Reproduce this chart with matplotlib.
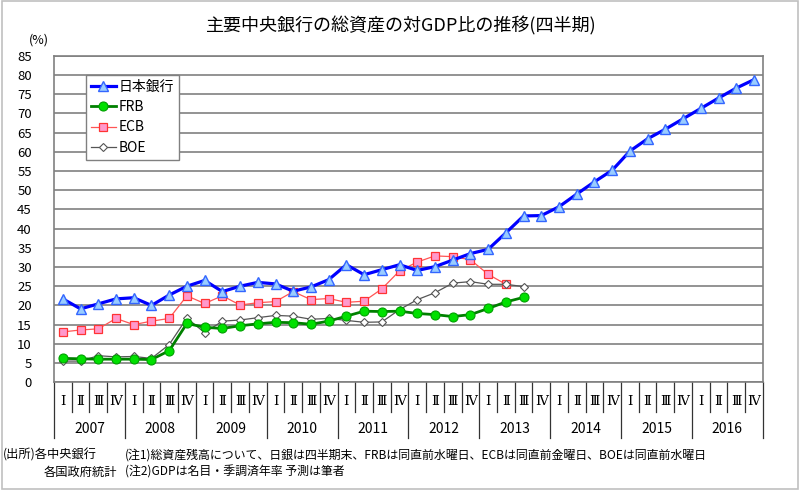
import matplotlib.pyplot as plt
import matplotlib.transforms as mtransforms
import numpy as np

plt.rcParams['font.family'] = ['Noto Sans CJK JP', 'DejaVu Sans']

years = ['2007', '2008', '2009', '2010', '2011', '2012', '2013', '2014', '2015', '2016']
quarters = ['Ⅰ', 'Ⅱ', 'Ⅲ', 'Ⅳ']

# 日本銀行 (2007Q1 - 2016Q4)
boj = [21.7, 19.1, 20.4, 21.7, 22.0, 20.0, 22.7, 25.0,
       26.5, 23.6, 25.0, 26.0, 25.6, 23.7, 24.8, 26.7,
       30.6, 28.0, 29.3, 30.6, 29.1, 30.1, 31.8, 33.5,
       34.6, 38.9, 43.3, 43.4, 45.7, 49.0, 52.2, 55.2,
       60.2, 63.4, 65.9, 68.6, 71.3, 74.0, 76.6, 78.8]
# FRB (2007Q1 - 2013Q3)
frb = [6.2, 6.1, 6.0, 6.0, 6.0, 5.9, 8.2, 15.3,
       14.3, 14.0, 14.7, 15.2, 15.6, 15.5, 15.1, 15.9,
       17.2, 18.5, 18.4, 18.5, 17.9, 17.6, 17.1, 17.6,
       19.2, 20.9, 22.1]
# ECB (2007Q1 - 2013Q2)
ecb = [13.1, 13.6, 13.9, 16.6, 15.0, 15.9, 16.6, 22.5,
       20.5, 22.5, 20.1, 20.7, 21.0, 23.6, 21.5, 21.8,
       20.8, 21.1, 24.3, 29.0, 31.3, 32.9, 32.7, 31.9,
       28.1, 25.5]
# BOE (2007Q1 - 2013Q3)
boe = [5.5, 5.5, 6.9, 6.6, 6.7, 6.2, 9.8, 16.7,
       12.9, 15.9, 16.2, 16.8, 17.4, 17.2, 16.4, 16.6,
       16.1, 15.6, 15.7, 18.9, 21.5, 23.3, 25.8, 26.2,
       25.5, 25.5, 24.9]

fig = plt.figure(figsize=(8, 4.9), dpi=100)
ax = fig.add_axes([0.0675, 0.22, 0.886, 0.666])

ax.plot(np.arange(len(boj)), boj, color='#0000ff', lw=2.3, marker='^', ms=7.5,
        mfc='#99ccff', mec='#3366ff', mew=1.0, label='日本銀行', zorder=5)
ax.plot(np.arange(len(frb)), frb, color='#008000', lw=2.0, marker='o', ms=6.5,
        mfc='#00e000', mec='#00a000', mew=0.8, label='FRB', zorder=4)
ax.plot(np.arange(len(ecb)), ecb, color='#ff5555', lw=0.9, marker='s', ms=5.5,
        mfc='#ff99cc', mec='#ff3333', mew=0.9, label='ECB', zorder=3)
ax.plot(np.arange(len(boe)), boe, color='#555555', lw=0.9, marker='D', ms=4,
        mfc='white', mec='#555555', mew=0.8, label='BOE', zorder=3)

ax.set_xlim(-0.5, len(years) * 4 - 0.5)
ax.set_ylim(0, 85)
ax.set_yticks(np.arange(0, 86, 5))
ax.tick_params(axis='y', length=0, pad=16, labelsize=9.5)
ax.set_xticks([])
ax.grid(axis='y', color='#808080', lw=1.2)
ax.set_axisbelow(True)
for s in ax.spines.values():
    s.set_color('#808080')
    s.set_linewidth(1.2)

# x axis table: quarters and years
trans = mtransforms.blended_transform_factory(ax.transData, ax.transAxes)
n = len(years) * 4
for i in range(n + 1):
    yb = -0.171 if i % 4 == 0 else -0.0913
    ax.plot([i - 0.5, i - 0.5], [0, yb], color='#333333', lw=0.9,
            transform=trans, clip_on=False)
for i in range(n):
    ax.text(i, -0.06, quarters[i % 4], transform=trans, ha='center', va='center',
            fontsize=9.5, family=['DejaVu Serif', 'Noto Sans CJK JP'])
for k, yr in enumerate(years):
    ax.text(k * 4 + 1.5, -0.143, yr, transform=trans, ha='center', va='center',
            fontsize=10)

leg = ax.legend(loc='upper left', bbox_to_anchor=(0.045, 0.941), borderaxespad=0,
                fancybox=False, framealpha=1, edgecolor='#808080', fontsize=10,
                handlelength=1.8, handletextpad=0.2, labelspacing=0.45,
                borderpad=0.35)
leg.get_frame().set_linewidth(1.0)

fig.text(0.502, 0.948, '主要中央銀行の総資産の対GDP比の推移(四半期)', ha='center',
         va='center', fontsize=13)
fig.text(0.048, 0.918, '(%)', ha='center', va='center', fontsize=9)

fig.text(0.003, 0.071, '(出所)各中央銀行', ha='left', va='center', fontsize=8.8)
fig.text(0.055, 0.036, '各国政府統計', ha='left', va='center', fontsize=8.8)
fig.text(0.156, 0.071, '(注1)総資産残高について、日銀は四半期末、FRBは同直前水曜日、ECBは同直前金曜日、BOEは同直前水曜日',
         ha='left', va='center', fontsize=8.6)
fig.text(0.156, 0.036, '(注2)GDPは名目・季調済年率 予測は筆者', ha='left', va='center',
         fontsize=8.6)

# outer frame
fig.patches.append(plt.Rectangle((0.002, 0.002), 0.996, 0.996, transform=fig.transFigure,
                                 fill=False, edgecolor='#c0c0c0', lw=1.2))

plt.savefig('out.png', dpi=100)
